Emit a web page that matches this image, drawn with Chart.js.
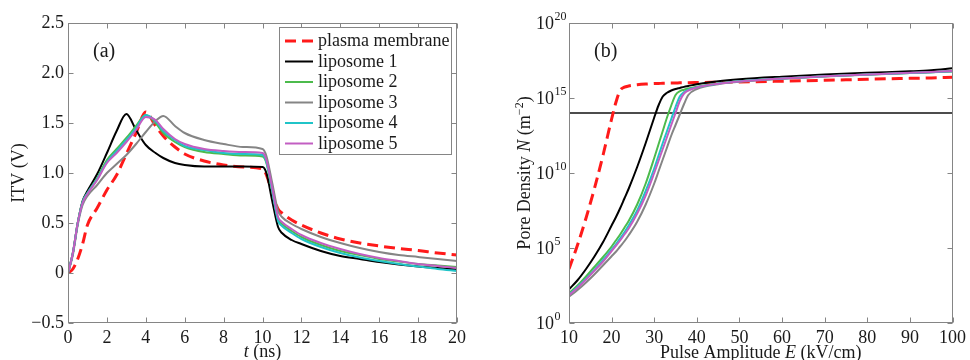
<!DOCTYPE html>
<html>
<head>
<meta charset="utf-8">
<script src="https://cdn.jsdelivr.net/npm/chart.js@4.4.1/dist/chart.umd.min.js"></script>
<style>
  html, body { margin: 0; padding: 0; background: #fff; }
  #wrap { position: relative; width: 970px; height: 360px; overflow: hidden; }
  canvas { position: absolute; top: 0; }
  #chartA { left: 0; }
  #chartB { left: 490px; }
</style>
</head>
<body>
<div id="wrap">
  <canvas id="chartA" width="480" height="360"></canvas>
  <canvas id="chartB" width="480" height="360"></canvas>
</div>
<script>
// ---- panel (a): ITV vs time ----
const tNs = [0, 0.25, 0.5, 0.75, 1, 1.5, 2, 2.5, 3, 3.5, 4, 4.5, 4.9, 5.5, 6, 7, 8, 9, 10,
             10.2, 10.5, 10.8, 11, 11.5, 12, 13, 14, 15, 16, 17, 18, 19, 20];
const itvPlasma = [0, 0.04, 0.14, 0.29, 0.48, 0.65, 0.83, 0.98, 1.19, 1.40, 1.61, 1.47, 1.37, 1.26, 1.19, 1.12, 1.08, 1.06, 1.04,
                   0.98, 0.80, 0.64, 0.60, 0.53, 0.48, 0.40, 0.34, 0.30, 0.27, 0.245, 0.225, 0.20, 0.18];
const itvLipo1 = [0, 0.20, 0.50, 0.72, 0.82, 0.99, 1.20, 1.42, 1.59, 1.43, 1.28, 1.20, 1.15, 1.10, 1.08, 1.065, 1.065, 1.065, 1.06,
                  1.00, 0.72, 0.46, 0.40, 0.33, 0.29, 0.22, 0.17, 0.14, 0.11, 0.085, 0.065, 0.05, 0.035];
const itvLipo2 = [0, 0.20, 0.50, 0.71, 0.80, 0.95, 1.13, 1.24, 1.35, 1.47, 1.58, 1.50, 1.40, 1.31, 1.26, 1.21, 1.19, 1.175, 1.165,
                  1.10, 0.82, 0.54, 0.49, 0.42, 0.36, 0.28, 0.22, 0.18, 0.14, 0.115, 0.09, 0.075, 0.06];
const itvLipo3 = [0, 0.18, 0.48, 0.68, 0.77, 0.88, 1.00, 1.09, 1.18, 1.29, 1.41, 1.52, 1.57, 1.47, 1.40, 1.33, 1.29, 1.26, 1.24,
                  1.17, 0.90, 0.62, 0.56, 0.49, 0.44, 0.36, 0.30, 0.25, 0.21, 0.18, 0.16, 0.14, 0.12];
const itvLipo4 = [0, 0.20, 0.50, 0.71, 0.80, 0.94, 1.11, 1.22, 1.33, 1.45, 1.58, 1.52, 1.42, 1.33, 1.27, 1.23, 1.20, 1.19, 1.18,
                  1.11, 0.82, 0.52, 0.47, 0.40, 0.34, 0.26, 0.20, 0.155, 0.12, 0.09, 0.065, 0.04, 0.02];
const itvLipo5 = [0, 0.20, 0.50, 0.70, 0.79, 0.93, 1.10, 1.20, 1.31, 1.43, 1.56, 1.53, 1.44, 1.34, 1.29, 1.24, 1.22, 1.21, 1.20,
                  1.13, 0.85, 0.56, 0.51, 0.44, 0.38, 0.30, 0.24, 0.19, 0.15, 0.12, 0.09, 0.07, 0.05];
const itvTicksX = [0, 20, 2];      // min, max, step
const itvTicksY = [-0.5, 2.5, 0.5];

// ---- panel (b): pore density (log10 N) vs pulse amplitude ----
const eKVcm = [10, 12, 14, 16, 18, 20, 21, 22, 23, 24, 26, 28, 30, 31, 32, 33, 34, 35, 36, 37, 38, 40, 45, 50, 60, 70, 80, 90, 95, 100];
const logNPlasma = [3.6, 5.2, 7.0, 9.0, 11.2, 13.6, 14.7, 15.5, 15.72, 15.8, 15.88, 15.93, 15.96, 15.97, 15.98, 15.99, 16.0, 16.0,
                    16.01, 16.01, 16.02, 16.03, 16.05, 16.07, 16.12, 16.18, 16.25, 16.31, 16.34, 16.38];
const logNLipo1 = [2.25, 2.85, 3.6, 4.45, 5.4, 6.5, 7.05, 7.65, 8.3, 8.95, 10.4, 12.0, 13.7, 14.5, 15.1, 15.35, 15.5, 15.6,
                   15.67, 15.74, 15.8, 15.92, 16.12, 16.25, 16.42, 16.56, 16.68, 16.78, 16.85, 16.98];
const logNLipo2 = [1.98, 2.5, 3.1, 3.75, 4.4, 5.1, 5.5, 5.9, 6.35, 6.8, 7.9, 9.3, 11.0, 11.9, 12.8, 13.7, 14.5, 15.2,
                   15.45, 15.55, 15.63, 15.75, 15.97, 16.12, 16.3, 16.45, 16.57, 16.67, 16.72, 16.78];
const logNLipo3 = [1.75, 2.2, 2.7, 3.25, 3.85, 4.45, 4.75, 5.1, 5.45, 5.85, 6.75, 7.9, 9.3, 10.1, 10.9, 11.7, 12.5, 13.2,
                   13.9, 14.6, 15.2, 15.6, 15.92, 16.08, 16.28, 16.43, 16.55, 16.66, 16.71, 16.77];
const logNLipo4 = [1.87, 2.4, 2.95, 3.55, 4.2, 4.9, 5.25, 5.65, 6.05, 6.5, 7.5, 8.8, 10.3, 11.15, 12.0, 12.8, 13.6, 14.4,
                   15.1, 15.4, 15.55, 15.72, 15.96, 16.11, 16.3, 16.45, 16.57, 16.67, 16.72, 16.78];
const logNLipo5 = [1.85, 2.35, 2.9, 3.5, 4.1, 4.8, 5.15, 5.5, 5.9, 6.3, 7.3, 8.5, 10.0, 10.8, 11.6, 12.4, 13.2, 14.0,
                   14.8, 15.3, 15.5, 15.7, 15.95, 16.1, 16.3, 16.45, 16.57, 16.68, 16.73, 16.8];
const thresholdE = [10, 100];
const thresholdLogN = [14, 14];
const poreTicksX = [10, 100, 10];
const poreTicksY = [0, 20, 5];     // exponents of 10

const seriesLabels = ['plasma membrane', 'liposome 1', 'liposome 2', 'liposome 3', 'liposome 4', 'liposome 5'];
const seriesColors = ['#ff1a1a', '#000000', '#4cbb4c', '#858585', '#20c4c8', '#c25ec2'];

const SERIF = '"Liberation Serif", "Times New Roman", serif';
const INK = '#1a1a1a';
const AXIS = '#858585';
const TICK = 5;

Chart.defaults.font.family = SERIF;
Chart.defaults.font.size = 18;
Chart.defaults.color = INK;

function makeSets(xs, ys) {
  return ys.map((vals, i) => ({
    label: seriesLabels[i],
    data: xs.map((x, k) => ({ x: x, y: vals[k] })),
    borderColor: seriesColors[i],
    borderWidth: i === 0 ? 3 : 2,
    borderDash: i === 0 ? [11, 6] : [],
    pointRadius: 0,
    cubicInterpolationMode: 'monotone',
    order: ys.length - i
  }));
}

function axis(range, size, cb, show) {
  return {
    type: 'linear', min: range[0], max: range[1],
    grid: { display: false, drawTicks: false },
    border: { display: false },
    ticks: { stepSize: range[2], padding: 4, autoSkip: false, maxRotation: 0, display: show, callback: cb },
    afterFit: s => { if (s.isHorizontal()) s.height = size; else s.width = size; }
  };
}

// text made of several font runs, centred on x
function drawRuns(ctx, runs, x, y) {
  let w = 0;
  runs.forEach(r => { ctx.font = r.font; r.w = ctx.measureText(r.text).width; w += r.w; });
  let cx = x - w / 2;
  runs.forEach(r => { ctx.font = r.font; ctx.fillText(r.text, cx, y + (r.dy || 0)); cx += r.w; });
}

function drawFrame(chart, panel) {
  const ctx = chart.ctx, a = chart.chartArea, xs = chart.scales.x, ys = chart.scales.y;
  const L = Math.round(a.left) + 0.5, R = Math.round(a.right) - 0.5;
  const T = Math.round(a.top) + 0.5, B = Math.round(a.bottom) - 0.5;
  ctx.save();
  ctx.strokeStyle = AXIS;
  ctx.lineWidth = 1;
  ctx.setLineDash([]);
  ctx.strokeRect(L, T, R - L, B - T);
  ctx.beginPath();
  xs.ticks.forEach(t => {
    const p = Math.round(xs.getPixelForValue(t.value)) + 0.5;
    ctx.moveTo(p, B); ctx.lineTo(p, B - TICK);
    ctx.moveTo(p, T); ctx.lineTo(p, T + TICK);
  });
  ys.ticks.forEach(t => {
    const p = Math.round(ys.getPixelForValue(t.value)) + 0.5;
    ctx.moveTo(L, p); ctx.lineTo(L + TICK, p);
    ctx.moveTo(R, p); ctx.lineTo(R - TICK, p);
  });
  ctx.stroke();
  ctx.fillStyle = INK;
  ctx.textAlign = 'left';
  ctx.textBaseline = 'alphabetic';
  ctx.font = '20px ' + SERIF;
  ctx.fillText(panel, a.left + 25, 57);
  ctx.restore();
}

const reg = '18px ' + SERIF, ital = 'italic 18px ' + SERIF, small = '12px ' + SERIF;

// ---------- chart (a) ----------
new Chart(document.getElementById('chartA'), {
  type: 'line',
  data: { datasets: makeSets(tNs, [itvPlasma, itvLipo1, itvLipo2, itvLipo3, itvLipo4, itvLipo5]) },
  options: {
    responsive: false, animation: false, devicePixelRatio: 1,
    layout: { padding: { top: 23, right: 23, left: 0, bottom: 0 } },
    plugins: { legend: { display: false }, tooltip: { enabled: false } },
    scales: {
      x: axis(itvTicksX, 37, v => String(v), true),
      y: axis(itvTicksY, 68, v => v === 0 ? '0' : (v < 0 ? '\u2212' + Math.abs(v).toFixed(1) : v.toFixed(1)), true)
    }
  },
  plugins: [{
    id: 'frameA',
    afterDraw(chart) {
      drawFrame(chart, '(a)');
      const ctx = chart.ctx, a = chart.chartArea;
      ctx.save();
      ctx.fillStyle = INK;
      ctx.textBaseline = 'alphabetic';
      ctx.textAlign = 'left';
      // legend
      const bx = 279.5, by = 27.5, bw = 172, bh = 127;
      ctx.fillStyle = '#fff';
      ctx.fillRect(bx, by, bw, bh);
      ctx.strokeStyle = AXIS; ctx.lineWidth = 1;
      ctx.strokeRect(bx, by, bw, bh);
      chart.data.datasets.forEach((ds, i) => {
        const yc = 41 + i * 20.5;
        ctx.strokeStyle = ds.borderColor;
        ctx.lineWidth = ds.borderWidth;
        ctx.setLineDash(ds.borderDash);
        ctx.beginPath(); ctx.moveTo(285, yc); ctx.lineTo(313, yc); ctx.stroke();
        ctx.setLineDash([]);
        ctx.fillStyle = INK;
        ctx.font = reg;
        ctx.fillText(ds.label, 318, yc + 5);
      });
      // axis titles
      drawRuns(ctx, [{ text: 't', font: ital }, { text: ' (ns)', font: reg }], (a.left + a.right) / 2, 357);
      ctx.translate(24, (a.top + a.bottom) / 2);
      ctx.rotate(-Math.PI / 2);
      drawRuns(ctx, [{ text: 'ITV (V)', font: reg }], 0, 0);
      ctx.restore();
    }
  }]
});

// ---------- chart (b) ----------
const setsB = makeSets(eKVcm, [logNPlasma, logNLipo1, logNLipo2, logNLipo3, logNLipo4, logNLipo5]);
setsB.push({
  label: 'threshold',
  data: thresholdE.map((x, k) => ({ x: x, y: thresholdLogN[k] })),
  borderColor: '#111', borderWidth: 1.5, pointRadius: 0, order: 10
});

new Chart(document.getElementById('chartB'), {
  type: 'line',
  data: { datasets: setsB },
  options: {
    responsive: false, animation: false, devicePixelRatio: 1,
    layout: { padding: { top: 23, right: 14, left: 0, bottom: 0 } },
    plugins: { legend: { display: false }, tooltip: { enabled: false } },
    scales: {
      x: axis(poreTicksX, 37, v => String(v), true),
      y: axis(poreTicksY, 79, v => String(v), false)
    }
  },
  plugins: [{
    id: 'frameB',
    afterDraw(chart) {
      drawFrame(chart, '(b)');
      const ctx = chart.ctx, a = chart.chartArea, ys = chart.scales.y;
      ctx.save();
      ctx.fillStyle = INK;
      ctx.textBaseline = 'alphabetic';
      ctx.textAlign = 'left';
      // 10^n tick labels
      ys.ticks.forEach(t => {
        const p = ys.getPixelForValue(t.value);
        ctx.font = reg;
        ctx.fillText('10', 46, p + 6);
        const w = ctx.measureText('10').width;
        ctx.font = small;
        ctx.fillText(String(t.value), 46 + w + 0.5, p - 3);
      });
      drawRuns(ctx, [{ text: 'Pulse Amplitude ', font: reg }, { text: 'E', font: ital }, { text: ' (kV/cm)', font: reg }],
               (a.left + a.right) / 2, 358);
      ctx.translate(39.5, (a.top + a.bottom) / 2);
      ctx.rotate(-Math.PI / 2);
      drawRuns(ctx, [
        { text: 'Pore Density ', font: reg }, { text: 'N', font: ital }, { text: ' (m', font: reg },
        { text: '\u22122', font: small, dy: -7 }, { text: ')', font: reg }
      ], 0, 0);
      ctx.restore();
    }
  }]
});
</script>
</body>
</html>
